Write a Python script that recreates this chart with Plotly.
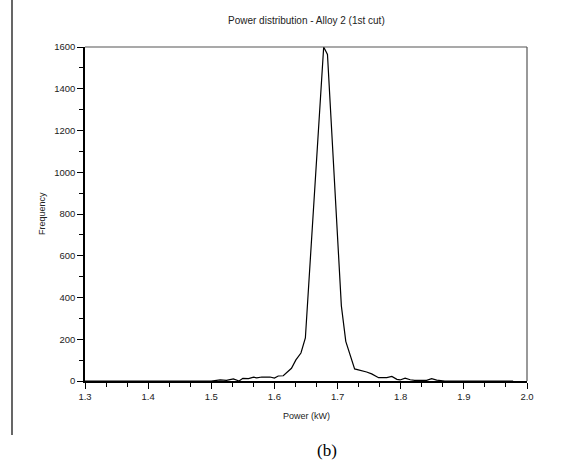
import plotly.graph_objects as go

power_kw = [1.300, 1.400, 1.500, 1.514, 1.524, 1.535, 1.544, 1.550, 1.559, 1.567, 1.572,
            1.580, 1.593, 1.600, 1.606, 1.614, 1.627, 1.634, 1.639, 1.642, 1.649,
            1.678, 1.684, 1.706, 1.713, 1.727, 1.746, 1.754, 1.765, 1.778, 1.786,
            1.794, 1.799, 1.807, 1.815, 1.822, 1.841, 1.849, 1.857, 1.870, 1.978]
frequency = [0, 0, 0, 5, 3, 10, 0, 13, 11, 18, 15,
             19, 19, 14, 24, 25, 61, 101, 125, 134, 206,
             1600, 1564, 360, 190, 58, 43, 34, 16, 16, 22,
             8, 5, 14, 6, 3, 3, 11, 4, 0, 0]

title_text = "Power distribution - Alloy 2 (1st cut)"
x_label = "Power (kW)"
y_label = "Frequency"
caption = "(b)"
x_ticks = [1.3, 1.4, 1.5, 1.6, 1.7, 1.8, 1.9, 2.0]
x_ticktext = ["1.3", "1.4", "1.5", "1.6", "1.7", "1.8", "1.9", "2.0"]
y_ticks = [0, 200, 400, 600, 800, 1000, 1200, 1400, 1600]

sans = "Liberation Sans, Arial, sans-serif"
fig = go.Figure()
fig.add_trace(go.Scatter(x=power_kw, y=frequency, mode="lines",
                         line=dict(color="black", width=1.2), showlegend=False))

H = 334.0
W = 442.0
def py(pix):
    return (381 - pix) / H
def px(pix):
    return (pix - 85) / W

fig.update_layout(
    width=587, height=466,
    margin=dict(l=85, r=60, t=47, b=85),
    paper_bgcolor="white", plot_bgcolor="white",
    font=dict(family=sans, size=9, color="#222"),
    xaxis=dict(range=[1.3, 2.0], tickvals=x_ticks, ticktext=x_ticktext,
               ticks="outside", ticklen=6, tickwidth=1.2, tickcolor="black",
               showline=True, linecolor="black", linewidth=1.5,
               showgrid=False, zeroline=False,
               minor=dict(tick0=1.3, dtick=0.1 / 3, ticks="outside", ticklen=4,
                          tickwidth=1.2, tickcolor="black", showgrid=False),
               tickfont=dict(family=sans, size=9.5, color="#222")),
    yaxis=dict(range=[0, 1600], tickvals=y_ticks,
               ticks="outside", ticklen=6, tickwidth=1.2, tickcolor="black",
               showline=True, linecolor="black", linewidth=1.5,
               showgrid=False, zeroline=False,
               minor=dict(dtick=100, ticks="outside", ticklen=4,
                          tickwidth=1.2, tickcolor="black", showgrid=False),
               tickfont=dict(family=sans, size=9.5, color="#222")),
    shapes=[
        dict(type="line", xref="paper", yref="paper", x0=0, x1=1, y0=1, y1=1,
             line=dict(color="#555", width=1.2)),
        dict(type="line", xref="paper", yref="paper", x0=1, x1=1, y0=0, y1=1,
             line=dict(color="#555", width=1.2)),
        dict(type="line", xref="paper", yref="paper", x0=px(12), x1=px(12),
             y0=py(0), y1=py(435), line=dict(color="black", width=1.2)),
    ],
    annotations=[
        dict(text=title_text, xref="paper", yref="paper", x=0.5, y=py(21),
             xanchor="center", yanchor="middle", showarrow=False,
             font=dict(family=sans, size=10, color="#222")),
        dict(text=x_label, xref="paper", yref="paper", x=0.5, y=py(416),
             xanchor="center", yanchor="middle", showarrow=False,
             font=dict(family=sans, size=9, color="#222")),
        dict(text=y_label, xref="paper", yref="paper", x=px(42), y=0.5,
             xanchor="center", yanchor="middle", showarrow=False, textangle=-90,
             font=dict(family=sans, size=9, color="#222")),
        dict(text=caption, xref="paper", yref="paper", x=px(327), y=py(450),
             xanchor="center", yanchor="middle", showarrow=False,
             font=dict(family="Liberation Serif, Times New Roman, serif", size=17, color="black")),
    ],
)

fig.write_html("out.html", config={"displayModeBar": False},
               post_script="document.body.style.margin='0';")
